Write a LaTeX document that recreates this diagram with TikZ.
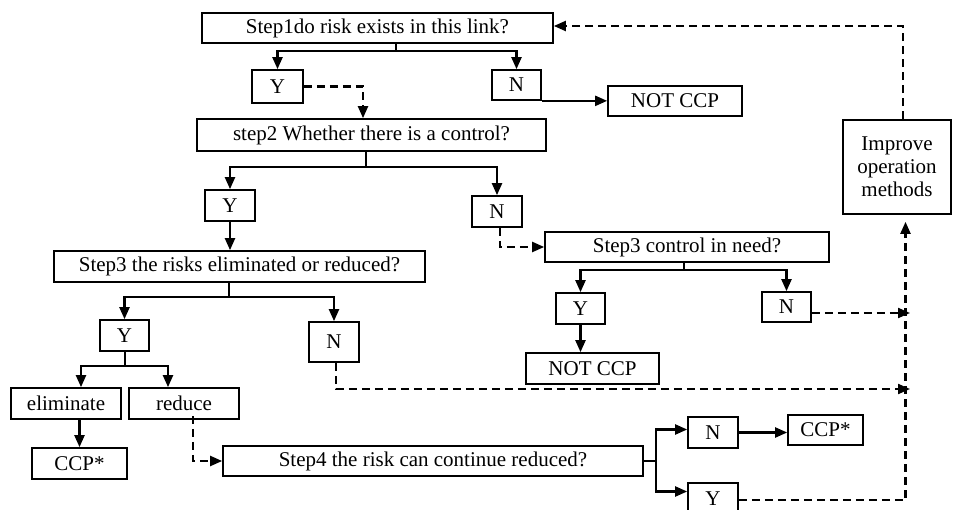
\documentclass[tikz,border=0pt]{standalone}
\usepackage{fontspec}
\setmainfont{Liberation Serif}
\usetikzlibrary{arrows.meta,calc}
\begin{document}
\begin{tikzpicture}[x=1pt,y=-1pt,
 box/.style={draw,line width=1.7pt,inner sep=0pt,align=center,font=\fontsize{21}{23}\selectfont},
 line/.style={line width=2.2pt},
 conn/.style={line,-{Triangle[length=12pt,width=10pt]}},
 dconn/.style={conn,dash pattern=on 8pt off 5pt}]
\useasboundingbox (0,0) rectangle (953,510);
% nodes
\node[box,minimum width=351pt,minimum height=30pt] (s1) at (377.5,28) {Step1do risk exists in this link?};
\node[box,minimum width=51pt,minimum height=33pt] (y1) at (277.5,86.5) {Y};
\node[box,minimum width=49pt,minimum height=30pt] (n1) at (516.5,85) {N};
\node[box,minimum width=134pt,minimum height=30pt] (nc1) at (675,101) {NOT CCP};
\node[box,minimum width=349pt,minimum height=32pt] (s2) at (371.5,135) {step2 Whether there is a control?};
\node[box,minimum width=108pt,minimum height=94pt] (imp) at (897,167) {Improve\\operation\\methods};
\node[box,minimum width=50pt,minimum height=31pt] (y2) at (230,205.5) {Y};
\node[box,minimum width=50pt,minimum height=31pt] (n2) at (497,211.5) {N};
\node[box,minimum width=371pt,minimum height=31pt] (s3a) at (239.5,266.5) {Step3 the risks eliminated or reduced?};
\node[box,minimum width=284pt,minimum height=30pt] (s3b) at (687,247) {Step3 control in need?};
\node[box,minimum width=49pt,minimum height=31pt] (y3b) at (580.5,308.5) {Y};
\node[box,minimum width=49pt,minimum height=30pt] (n3b) at (786.5,307) {N};
\node[box,minimum width=133pt,minimum height=31pt] (nc3b) at (592.5,368.5) {NOT CCP};
\node[box,minimum width=49pt,minimum height=31pt] (y3a) at (124.5,335.5) {Y};
\node[box,minimum width=50pt,minimum height=40pt] (n3a) at (334,342) {N};
\node[box,minimum width=110pt,minimum height=31pt] (elim) at (66,403.5) {eliminate};
\node[box,minimum width=110pt,minimum height=31pt] (red) at (184,403.5) {reduce};
\node[box,minimum width=95pt,minimum height=31pt] (ccp1) at (79.5,463.5) {CCP*};
\node[box,minimum width=420pt,minimum height=30pt] (s4) at (433,461) {Step4 the risk can continue reduced?};
\node[box,minimum width=50pt,minimum height=31pt] (n4) at (713,432.5) {N};
\node[box,minimum width=75pt,minimum height=30pt] (ccp2) at (825.5,430) {CCP*};
\node[box,minimum width=50pt,minimum height=31pt] (y4) at (713,498.5) {Y};
% junctions and free ends
\coordinate (j1) at (396,51);
\coordinate (j2) at (366,167);
\coordinate (j3) at (684,270);
\coordinate (j4) at (229,297);
\coordinate (j5) at (125,366);
\coordinate (j6) at (656,461);
\coordinate (v1) at (910,313);
\coordinate (v2) at (910,389);
% step1
\draw[line] (s1.south -| j1) -- (j1);
\draw[conn] (j1) -| (y1.north);
\draw[conn] (j1) -| (n1.north);
\draw[dconn] (y1.east) -| ([xshift=-8.5pt]s2.north);
\draw[conn] (n1.south east) -- (nc1.west |- n1.south east);
% step2
\draw[line] (s2.south -| j2) -- (j2);
\draw[conn] (j2) -| (y2.north);
\draw[conn] (j2) -| (n2.north);
\draw[conn] (y2.south) -- (y2.south |- s3a.north);
\draw[dconn] ([xshift=3pt]n2.south) |- (s3b.west);
% step3 control in need
\draw[line] (s3b.south -| j3) -- (j3);
\draw[conn] (j3) -| (y3b.north);
\draw[conn] (j3) -| (n3b.north);
\draw[conn] (y3b.south) -- (nc3b.north -| y3b.south);
\draw[dconn] ([yshift=-6pt]n3b.east) -- (v1);
% step3 eliminated or reduced
\draw[line] (s3a.south -| j4) -- (j4);
\draw[conn] (j4) -| (y3a.north);
\draw[conn] (j4) -| (n3a.north);
\draw[line] (y3a.south -| j5) -- (j5);
\draw[conn] (j5) -| ([xshift=15pt]elim.north);
\draw[conn] (j5) -| ([xshift=-16pt]red.north);
\draw[conn] (ccp1.north |- elim.south) -- (ccp1.north);
\draw[dconn] ([xshift=9pt,yshift=4pt]red.south) |- (s4.west);
\draw[dconn] ([xshift=2pt]n3a.south) |- (v2);
% step4
\draw[line] (s4.east) -- (j6);
\draw[conn] (j6) |- ([yshift=3pt]n4.west);
\draw[conn] (j6) |- ([yshift=7pt]y4.west);
\draw[conn] (n4.east) -- (ccp2.west |- n4.east);
\draw[dconn] ([yshift=-1.5pt]y4.east) -| ([xshift=8.5pt,yshift=-7pt]imp.south);
\draw[dconn] ([xshift=6pt]imp.north) |- ([yshift=2pt]s1.east);
\end{tikzpicture}
\end{document}
